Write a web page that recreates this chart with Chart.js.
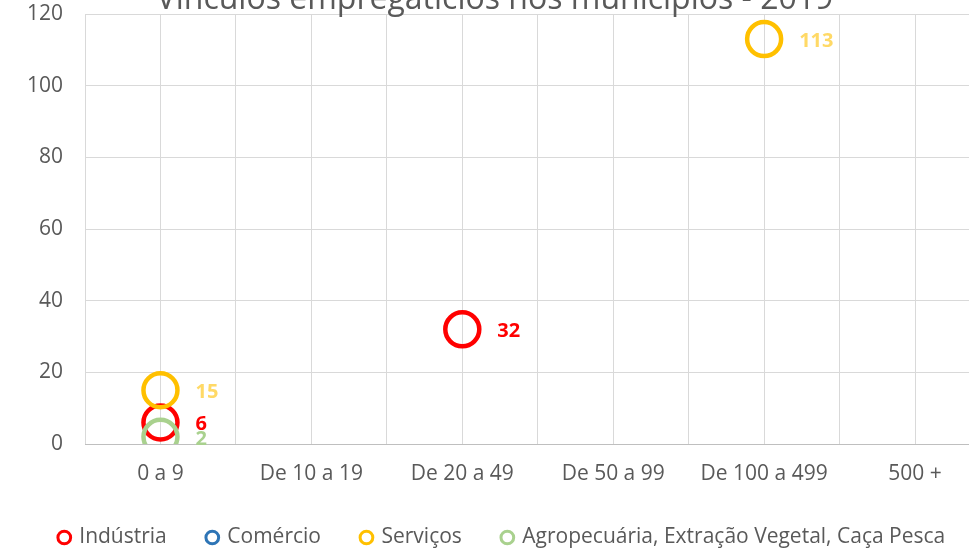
<!DOCTYPE html>
<html>
<head>
<meta charset="utf-8">
<script src="https://cdn.jsdelivr.net/npm/chart.js@4"></script>
<style>
    html, body { margin: 0; padding: 0; background: #fff; overflow: hidden; }
    #wrap { position: absolute; left: 0; top: -21px; width: 1012px; height: 580px; }
</style>
</head>
<body>
<div id="wrap"><canvas id="chart"></canvas></div>
<script>
// Chart data
const chartTitle = 'Vínculos empregatícios nos municípios - 2019';
const categories = ['0 a 9', 'De 10 a 19', 'De 20 a 49', 'De 50 a 99', 'De 100 a 499', '500 +'];
const seriesNames = ['Indústria', 'Comércio', 'Serviços', 'Agropecuária, Extração Vegetal, Caça Pesca'];
const industria = [6, null, 32, null, null, null];
const comercio = [null, null, null, null, null, null];
const servicos = [15, null, null, null, 113, null];
const agropecuaria = [2, null, null, null, null, null];
const yTicks = [0, 20, 40, 60, 80, 100, 120];

const ringColors = ['#FF0000', '#2E75B6', '#FFC000', '#A9D18E'];
const labelColors = ['#FF0000', '#2E75B6', '#FFD966', '#A9D18E'];
const FONT = '"Open Sans", sans-serif';
const TEXT = '#595959';

const toPoints = (values) => values
    .map((v, i) => (v === null ? null : { x: i, y: v }))
    .filter(p => p !== null);

const allSeries = [industria, comercio, servicos, agropecuaria];

const datasets = allSeries.map((values, i) => ({
    label: seriesNames[i],
    data: toPoints(values),
    borderColor: ringColors[i],
    backgroundColor: 'rgba(0,0,0,0)',
    pointRadius: 17,
    pointHoverRadius: 17,
    pointBorderWidth: 4.5,
    showLine: false,
    order: allSeries.length - 1 - i // later series drawn on top
}));

// value labels to the right of each ring
const valueLabels = {
    id: 'valueLabels',
    afterDatasetsDraw(chart) {
        const ctx = chart.ctx;
        ctx.save();
        ctx.font = 'bold 20px ' + FONT;
        ctx.textAlign = 'left';
        ctx.textBaseline = 'middle';
        chart.data.datasets.forEach((ds, i) => {
            const meta = chart.getDatasetMeta(i);
            meta.data.forEach((pt, j) => {
                ctx.fillStyle = labelColors[i];
                ctx.fillText(String(ds.data[j].y), pt.x + 35, pt.y + 2);
            });
        });
        ctx.restore();
    }
};

// title, mostly cut off by the top edge like in the original
const topTitle = {
    id: 'topTitle',
    afterDraw(chart) {
        const ctx = chart.ctx;
        ctx.save();
        ctx.font = '32px ' + FONT;
        ctx.fillStyle = TEXT;
        ctx.textAlign = 'center';
        ctx.textBaseline = 'alphabetic';
        ctx.fillText(chartTitle, 495, 30);
        ctx.restore();
    }
};

new Chart(document.getElementById('chart'), {
    type: 'scatter',
    data: { datasets },
    plugins: [valueLabels, topTitle],
    options: {
        responsive: true,
        maintainAspectRatio: false,
        animation: false,
        layout: { padding: { left: 0, right: 7, top: 35, bottom: 1 } },
        plugins: {
            tooltip: { enabled: false },
            title: { display: false },
            legend: {
                position: 'bottom',
                labels: {
                    usePointStyle: true,
                    boxHeight: 9,
                    boxWidth: 9,
                    padding: 41,
                    color: TEXT,
                    font: { family: FONT, size: 21 },
                    sort: (a, b) => a.datasetIndex - b.datasetIndex,
                    generateLabels: (chart) => chart.data.datasets.map((ds, i) => ({
                        text: ds.label,
                        fillStyle: '#FFFFFF',
                        strokeStyle: ringColors[i],
                        lineWidth: 3,
                        pointStyle: 'circle',
                        fontColor: TEXT,
                        hidden: false,
                        datasetIndex: i
                    }))
                }
            }
        },
        scales: {
            x: {
                type: 'linear',
                min: -0.5,
                max: categories.length - 0.5,
                afterBuildTicks: (scale) => {
                    const ticks = [];
                    for (let k = 0; k <= categories.length * 2; k++) ticks.push({ value: -0.5 + k * 0.5 });
                    scale.ticks = ticks;
                },
                afterFit: (scale) => { scale.height = 42; },
                grid: { color: '#D9D9D9', drawTicks: false },
                border: { display: true, color: '#BFBFBF' },
                ticks: {
                    autoSkip: false,
                    maxRotation: 0,
                    minRotation: 0,
                    padding: 17,
                    color: TEXT,
                    font: { family: FONT, size: 21 },
                    callback: (v) => (Number.isInteger(v) ? categories[v] : '')
                }
            },
            y: {
                min: yTicks[0],
                max: yTicks[yTicks.length - 1],
                afterBuildTicks: (scale) => { scale.ticks = yTicks.map(v => ({ value: v })); },
                afterFit: (scale) => { scale.width = 85; },
                grid: { color: '#D9D9D9', drawTicks: false },
                border: { display: false },
                ticks: {
                    padding: 22,
                    color: TEXT,
                    font: { family: FONT, size: 21 }
                }
            }
        }
    }
});
</script>
</body>
</html>
